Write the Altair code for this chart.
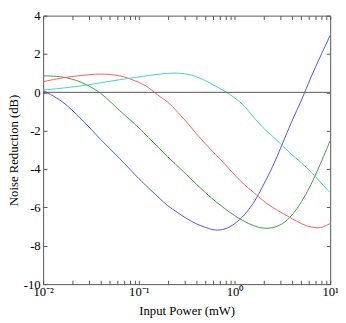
import altair as alt
import pandas as pd

# Input power (mW) sample points
x_power = [0.01, 0.01585, 0.02512, 0.03981, 0.0631, 0.1, 0.1259, 0.1585, 0.1995,
           0.2512, 0.3162, 0.3981, 0.5012, 0.631, 0.7943, 1.0, 1.259, 1.585,
           1.995, 2.512, 3.162, 3.981, 5.012, 6.31, 7.943, 10.0]

# Noise reduction (dB)
blue = [0.10, -0.49, -1.4, -2.45, -3.45, -4.5, -4.98, -5.45, -5.9, -6.25, -6.58,
        -6.85, -7.05, -7.18, -7.12, -6.85, -6.4, -5.75, -4.85, -3.85, -2.69,
        -1.5, -0.4, 0.8, 1.9, 2.97]
green = [0.86, 0.80, 0.52, -0.05, -0.95, -1.85, -2.35, -2.85, -3.35, -3.82, -4.3,
         -4.78, -5.25, -5.68, -6.07, -6.42, -6.72, -6.95, -7.08, -7.05, -6.85,
         -6.4, -5.7, -4.8, -3.7, -2.52]
red = [0.56, 0.75, 0.88, 0.95, 0.86, 0.52, 0.25, -0.15, -0.5, -1.0, -1.55,
       -2.15, -2.71, -3.23, -3.75, -4.3, -4.8, -5.22, -5.65, -6.0, -6.3, -6.58,
       -6.85, -7.02, -7.05, -6.84]
cyan = [0.12, 0.22, 0.34, 0.5, 0.66, 0.8, 0.88, 0.94, 0.99, 1.0, 0.95, 0.82,
        0.6, 0.33, 0.05, -0.28, -0.7, -1.3, -1.85, -2.3, -2.78, -3.25, -3.68,
        -4.15, -4.7, -5.23]

series_names = ["blue", "green", "red", "cyan"]
series_colors = ["#4d4dff", "#3c9c3c", "#ff5a5a", "#40d0d0"]

x_ticks = [0.01, 0.02, 0.03, 0.04, 0.05, 0.06, 0.07, 0.08, 0.09,
           0.1, 0.2, 0.3, 0.4, 0.5, 0.6, 0.7, 0.8, 0.9,
           1, 2, 3, 4, 5, 6, 7, 8, 9, 10]
y_ticks = [-10, -8, -6, -4, -2, 0, 2, 4]
zero_line = [0]

rows = []
for name, ys in zip(series_names, [blue, green, red, cyan]):
    for xv, yv in zip(x_power, ys):
        rows.append({"series": name, "power": xv, "nr": yv})
df = pd.DataFrame(rows)

FONT = "Times New Roman, Liberation Serif, serif"
AX = "#555555"
TICK = 4

xscale = alt.Scale(type="log", domain=[0.01, 10], nice=False)
yscale = alt.Scale(domain=[-10, 4], nice=False)

x_label_expr = ("datum.value == 0.01 ? '10⁻²' : datum.value == 0.1 ? '10⁻¹' : "
                "datum.value == 1 ? '10⁰' : datum.value == 10 ? '10¹' : ''")

common = dict(domain=False, grid=False, tickSize=TICK, offset=-TICK, tickColor=AX,
              labelFont=FONT, labelFontSize=13, labelColor="black",
              titleFont=FONT, titleFontSize=13, titleFontWeight="normal",
              titleColor="black")
notitle = {k: v for k, v in common.items() if not k.startswith("title")}

lines = alt.Chart(df).mark_line(strokeWidth=1, interpolate="catmull-rom").encode(
    x=alt.X("power:Q", scale=xscale,
            axis=alt.Axis(orient="bottom", values=x_ticks, labelExpr=x_label_expr,
                          labelFlush=False, labelOverlap=False, labelPadding=2,
                          title="Input Power (mW)", titlePadding=6, **common)),
    y=alt.Y("nr:Q", scale=yscale,
            axis=alt.Axis(orient="left", values=y_ticks, labelExpr="'' + datum.value",
                          labelPadding=3, labelFlush=False,
                          title="Noise Reduction (dB)", titlePadding=3, **common)),
    color=alt.Color("series:N", scale=alt.Scale(domain=series_names, range=series_colors),
                    legend=None),
)

zero = alt.Chart(pd.DataFrame({"nr": zero_line})).mark_rule(
    color=AX, strokeWidth=1).encode(
    y=alt.Y("nr:Q", scale=yscale,
            axis=alt.Axis(orient="right", values=y_ticks, labels=False, title=None,
                          **notitle)),
)

top = alt.Chart(pd.DataFrame({"power": x_ticks})).mark_point(opacity=0).encode(
    x=alt.X("power:Q", scale=xscale,
            axis=alt.Axis(orient="top", values=x_ticks, labels=False, title=None,
                          **notitle)),
)

chart = alt.layer(lines, zero, top).resolve_axis(
    x="independent", y="independent"
).properties(
    width=294, height=275,
    autosize=alt.AutoSizeParams(type="none"),
    padding={"left": 36, "top": 4, "right": 8, "bottom": 36},
).configure_view(stroke=AX, strokeWidth=1)

chart.save("out.html", embed_options={"renderer": "svg", "actions": False})
